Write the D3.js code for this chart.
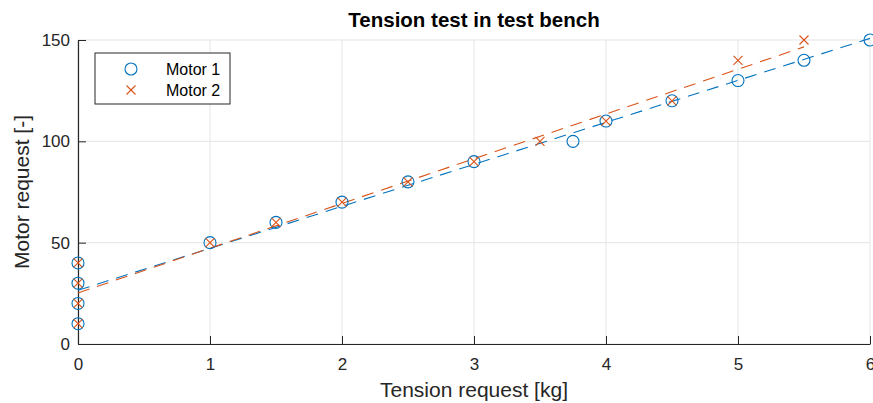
<!DOCTYPE html>
<html>
<head>
<meta charset="utf-8">
<script src="https://cdn.jsdelivr.net/npm/d3@7"></script>
<style>
  body { margin: 0; background: #fff; }
  text { font-family: "Liberation Sans", Arial, Helvetica, sans-serif; }
</style>
</head>
<body>
<div id="chart"></div>
<script>
// datos
const motor1X = [0, 0, 0, 0, 1, 1.5, 2, 2.5, 3, 3.75, 4, 4.5, 5, 5.5, 6];
const motor1Y = [10, 20, 30, 40, 50, 60, 70, 80, 90, 100, 110, 120, 130, 140, 150];
const motor2X = [0, 0, 0, 0, 1, 1.5, 2, 2.5, 3, 3.5, 4, 4.5, 5, 5.5];
const motor2Y = [10, 20, 30, 40, 50, 60, 70, 80, 90, 100, 110, 120, 140, 150];
// rectas de ajuste (extremos)
const fit1 = [[0, 26.5], [6, 150.8]];
const fit2 = [[0, 25.2], [5.5, 146.6]];
const xTicks = [0, 1, 2, 3, 4, 5, 6];
const yTicks = [0, 50, 100, 150];

const blue = "#0072BD";
const orange = "#D95319";
const axisColor = "#262626";

const W = 873, H = 403;
const margin = { top: 40, right: 3, bottom: 59, left: 78 };
const width = W - margin.left - margin.right;
const height = H - margin.top - margin.bottom;

const svg = d3.select("#chart").append("svg")
    .attr("width", W)
    .attr("height", H);

const g = svg.append("g")
    .attr("transform", `translate(${margin.left},${margin.top})`);

const x = d3.scaleLinear().domain([0, 6]).range([0, width]);
const y = d3.scaleLinear().domain([0, 150]).range([height, 0]);

// grid
g.selectAll(".gx").data(xTicks).enter().append("line")
    .attr("x1", d => x(d)).attr("x2", d => x(d))
    .attr("y1", 0).attr("y2", height)
    .attr("stroke", "#e5e5e5").attr("stroke-width", 1);
g.selectAll(".gy").data(yTicks).enter().append("line")
    .attr("x1", 0).attr("x2", width)
    .attr("y1", d => y(d)).attr("y2", d => y(d))
    .attr("stroke", "#e5e5e5").attr("stroke-width", 1);

// ejes
const xAxis = g.append("g")
    .attr("transform", `translate(0,${height})`)
    .call(d3.axisBottom(x).tickValues(xTicks).tickSizeInner(-8).tickSizeOuter(0).tickPadding(14).tickFormat(d3.format("d")));
const yAxis = g.append("g")
    .call(d3.axisLeft(y).tickValues(yTicks).tickSizeInner(-8).tickSizeOuter(0).tickPadding(8).tickFormat(d3.format("d")));

[xAxis, yAxis].forEach(a => {
    a.select(".domain").attr("stroke", axisColor).attr("stroke-width", 1.2);
    a.selectAll(".tick line").attr("stroke", axisColor);
    a.selectAll(".tick text").attr("fill", axisColor).style("font-size", "17px");
});

// rectas de ajuste
const line = d3.line().x(d => x(d[0])).y(d => y(d[1]));
g.append("path").datum(fit1)
    .attr("d", line).attr("fill", "none")
    .attr("stroke", blue).attr("stroke-width", 1.1)
    .attr("stroke-dasharray", "12,8");
g.append("path").datum(fit2)
    .attr("d", line).attr("fill", "none")
    .attr("stroke", orange).attr("stroke-width", 1.1)
    .attr("stroke-dasharray", "12,8");

// marcadores
g.selectAll(".m1").data(motor1X).enter().append("circle")
    .attr("cx", d => x(d))
    .attr("cy", (d, i) => y(motor1Y[i]))
    .attr("r", 6)
    .attr("fill", "none").attr("stroke", blue).attr("stroke-width", 1.1);

const cross = (sel, s) => sel.attr("d", `M${-s},${-s}L${s},${s}M${-s},${s}L${s},${-s}`)
    .attr("fill", "none").attr("stroke", orange).attr("stroke-width", 1.1);

g.selectAll(".m2").data(motor2X).enter().append("path")
    .attr("transform", (d, i) => `translate(${x(d)},${y(motor2Y[i])})`)
    .call(cross, 4.5);

// titulo y etiquetas
svg.append("text")
    .attr("x", margin.left + width / 2).attr("y", 27)
    .attr("text-anchor", "middle")
    .style("font-size", "20.5px").style("font-weight", "bold")
    .attr("fill", "#000")
    .text("Tension test in test bench");

svg.append("text")
    .attr("x", margin.left + width / 2).attr("y", 397)
    .attr("text-anchor", "middle")
    .style("font-size", "21px")
    .attr("fill", axisColor)
    .text("Tension request [kg]");

svg.append("text")
    .attr("transform", `translate(29,${margin.top + height / 2}) rotate(-90)`)
    .attr("text-anchor", "middle")
    .style("font-size", "21px")
    .attr("fill", axisColor)
    .text("Motor request [-]");

// leyenda
const leg = svg.append("g").attr("transform", "translate(95,53)");
leg.append("rect")
    .attr("width", 135).attr("height", 51)
    .attr("fill", "#fff").attr("stroke", axisColor).attr("stroke-width", 1);
leg.append("circle")
    .attr("cx", 36).attr("cy", 16).attr("r", 6)
    .attr("fill", "none").attr("stroke", blue).attr("stroke-width", 1.1);
leg.append("path")
    .attr("transform", "translate(36,37)")
    .call(cross, 4.5);
leg.append("text").attr("x", 71).attr("y", 21.5)
    .style("font-size", "16px").attr("fill", "#000").text("Motor 1");
leg.append("text").attr("x", 71).attr("y", 42.5)
    .style("font-size", "16px").attr("fill", "#000").text("Motor 2");
</script>
</body>
</html>
